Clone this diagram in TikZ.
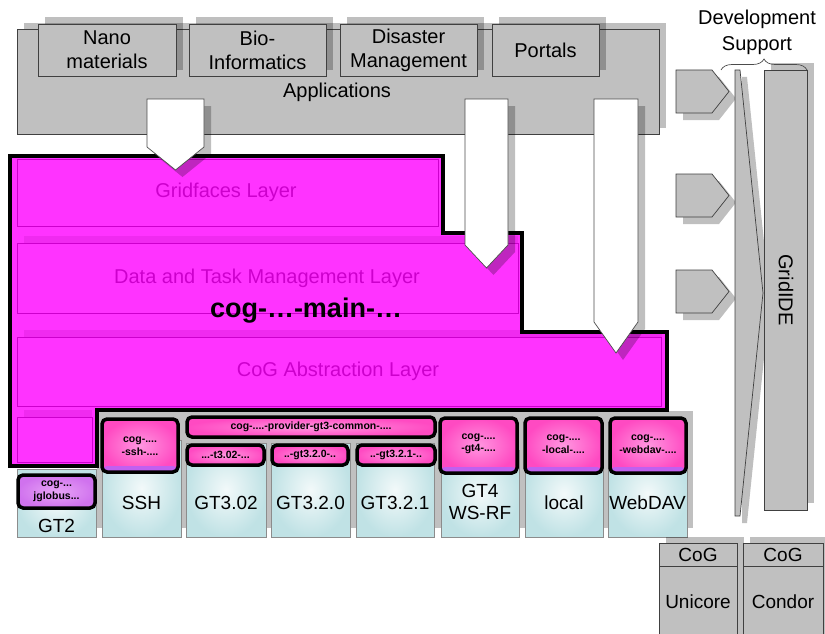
\documentclass[tikz,border=0pt]{standalone}
\usepackage{fontspec}
\setmainfont{Liberation Sans}
\usetikzlibrary{decorations.pathreplacing}
\definecolor{appgray}{HTML}{C0C0C0}
\definecolor{layermag}{HTML}{FF33FF}
\definecolor{layershade}{HTML}{F02AF0}
\definecolor{layerline}{HTML}{CC00CC}
\definecolor{provcyan}{HTML}{C0E2E5}
\definecolor{cogpink}{HTML}{FF4AC2}
\definecolor{coglight}{HTML}{FF96E0}
\definecolor{coglilac}{HTML}{C060F0}
\definecolor{jglight}{HTML}{E8A4F6}
\definecolor{jglilac}{HTML}{D072EE}
\newcommand{\fsz}[2]{\fontsize{#1}{#2}\selectfont}

\begin{document}
\begin{tikzpicture}[x=1pt,y=-1pt,
  appbox/.style={draw=black!75,fill=appgray,line width=0.7pt},
  dropshade/.style={fill=black,opacity=0.25},
  apptext/.style={font=\fsz{20}{24},align=center},
  layerbox/.style={draw=layerline,line width=0.6pt},
  layertext/.style={text=layerline,font=\fsz{20}{24}},
  provbox/.style={draw=black!45,line width=0.6pt,inner color=provcyan!20,outer color=provcyan},
  provtext/.style={font=\fsz{19}{22},align=center},
  cogbox/.style={draw=black,line width=3.5pt,rounded corners=5pt,inner color=coglight,outer color=cogpink},
  cogstrip/.style={path picture={\fill[coglilac] (path picture bounding box.south west) rectangle ([yshift=6pt]path picture bounding box.south east);}},
  cogtext/.style={font=\bfseries\fsz{10.5}{12.5},align=center},
  toolbox/.style={draw=black!75,fill=appgray,line width=0.7pt}]
\useasboundingbox (0,0) rectangle (825,634);
\clip (0,0) rectangle (825,634);

% applications
\fill[dropshade] (24,23) rectangle (666,128);
\draw[appbox] (17,29) rectangle (659,134);
\node[apptext] (apps) at (337,92) {Applications};
\foreach \xa/\xb/\name/\txt in {38/176/nano/{Nano\\materials}, 189/326/bio/{Bio-\\Informatics}, 340/477/dis/{Disaster\\Management}, 492/599/port/{Portals}}{
  \fill[dropshade] (\xa+7,17) rectangle (\xb+7,70);
  \draw[appbox] (\xa,24) rectangle (\xb,76);
  \node[apptext] (\name) at ({(\xa+\xb)/2},50) {\txt};
}

% provider background
\fill[appgray] (97,411) rectangle (693,528);

% layers
\fill[layermag] (10,156) -| (443,233) -| (522,332) -| (667,410) -| (97,466) -- (10,466) -- cycle;
\fill[layershade] (24,236) rectangle (518,243);
\fill[layershade] (24,330) rectangle (662,337);
\fill[layershade] (24,410) rectangle (92,417);
\draw[layerbox] (17,159) rectangle (438,226);
\draw[layerbox] (17,243) rectangle (518,313);
\draw[layerbox] (17,337) rectangle (661,406);
\draw[layerbox] (17,417) rectangle (92,462);
\node[layertext] (gridfaces) at (226,192) {Gridfaces Layer};
\node[layertext] (datatask) at (267,278) {Data and Task Management Layer};
\node[layertext] (abstraction) at (338,371) {CoG Abstraction Layer};
\draw[line width=4pt] (10,156) -| (443,233) -| (522,332) -| (667,410) -| (97,466) -- (10,466) -- cycle;
\node[font=\bfseries\fsz{27}{30}] (main) at (306,311) {cog-…-main-…};

% application arrows
\foreach \xa/\xb/\ys/\yt in {147/204/147/170, 465/508/245/268, 594/638/322/353}{
  \fill[dropshade] (\xa+7,106) -- (\xb+7,106) -- (\xb+7,\ys+7) -- ({(\xa+\xb)/2+7},\yt+7) -- (\xa+7,\ys+7) -- cycle;
  \draw[black!70,fill=white,line width=0.7pt] (\xa,99) -- (\xb,99) -- (\xb,\ys) -- ({(\xa+\xb)/2},\yt) -- (\xa,\ys) -- cycle;
}

% providers
\foreach \xa/\xb/\yt in {17/96/469, 102/181/440, 186/266/443, 271/350/443, 356/434/443, 441/519/450, 525/603/450, 608/687/450}
  \draw[provbox] (\xa,\yt) rectangle (\xb,537);
\node[provtext] (gt2) at (56.5,526) {GT2};
\node[provtext] (ssh) at (141.5,503) {SSH};
\node[provtext] (gtzerotwo) at (226,503) {GT3.02};
\node[provtext] (gtzero) at (310.5,503) {GT3.2.0};
\node[provtext] (gtone) at (395,503) {GT3.2.1};
\node[provtext] (gtfour) at (480,502) {GT4\\WS-RF};
\node[provtext] (local) at (564,503) {local};
\node[provtext] (webdav) at (647.5,503) {WebDAV};

% cog provider modules
\draw[cogbox,inner color=jglight,outer color=jglilac] (18,475) rectangle (95,508);
\node[cogtext] (jglobus) at (56.5,491.5) {cog-...\\jglobus...};
\draw[cogbox,cogstrip] (102,419) rectangle (178,472);
\node[cogtext] (cogssh) at (140,446) {cog-....\\-ssh-....};
\draw[cogbox] (187,417) rectangle (435,437);
\node[cogtext] (gtcommon) at (311,427) {cog-....-provider-gt3-common-....};
\draw[cogbox] (187,445) rectangle (264,465);
\node[cogtext] (coggtzerotwo) at (225.5,455) {...-t3.02-...};
\draw[cogbox] (272,445) rectangle (348,465);
\node[cogtext] (coggtzero) at (310,455) {..-gt3.2.0-..};
\draw[cogbox] (357,445) rectangle (435,465);
\node[cogtext] (coggtone) at (396,455) {..-gt3.2.1-..};
\foreach \xa/\xb/\name/\txt in {440/517/coggtfour/{cog-....\\-gt4-....}, 525/602/coglocal/{cog-....\\-local-....}, 610/686/cogwebdav/{cog-....\\-webdav-....}}{
  \draw[cogbox,cogstrip] (\xa,418) rectangle (\xb,473);
  \node[cogtext] (\name) at ({(\xa+\xb)/2},444) {\txt};
}

% development support
\foreach \yc in {70,174,270}{
  \fill[dropshade] (683,\yc+7) -- (719,\yc+7) -- (736,\yc+28.5) -- (719,\yc+50) -- (683,\yc+50) -- cycle;
  \draw[toolbox] (676,\yc) -- (712,\yc) -- (729,\yc+21.5) -- (712,\yc+43) -- (676,\yc+43) -- cycle;
}
\fill[dropshade] (742,77) -- (747,77) -- (770,300) -- (747,523) -- (742,523) -- cycle;
\draw[toolbox] (735,70) -- (740,70) -- (763,293) -- (740,516) -- (735,516) -- cycle;
\fill[dropshade] (771,63) rectangle (814,503);
\draw[toolbox] (764,70) rectangle (807,510);
\node[font=\fsz{20}{24},rotate=-90] (gridide) at (786,290) {GridIDE};
\draw[black!70,line width=0.7pt,decorate,decoration={brace,amplitude=11pt}] (721,70) -- (807,70);
\node[apptext,align=center,font=\fsz{20}{26}] (devsupport) at (757,32) {Development\\Support};

% cog extras
\foreach \xa/\xb/\name/\txt in {659/737/unicore/Unicore, 743/823/condor/Condor}{
  \fill[dropshade] (\xa+7,537) rectangle (\xb+7,640);
  \draw[toolbox] (\xa,543) rectangle (\xb,640);
  \draw[black!75,line width=0.7pt] (\xa,566) -- (\xb,566);
  \node[font=\fsz{19}{22}] (\name cog) at ({(\xa+\xb)/2},555) {CoG};
  \node[font=\fsz{19}{22}] (\name) at ({(\xa+\xb)/2},602) {\txt};
}
\end{tikzpicture}
\end{document}
